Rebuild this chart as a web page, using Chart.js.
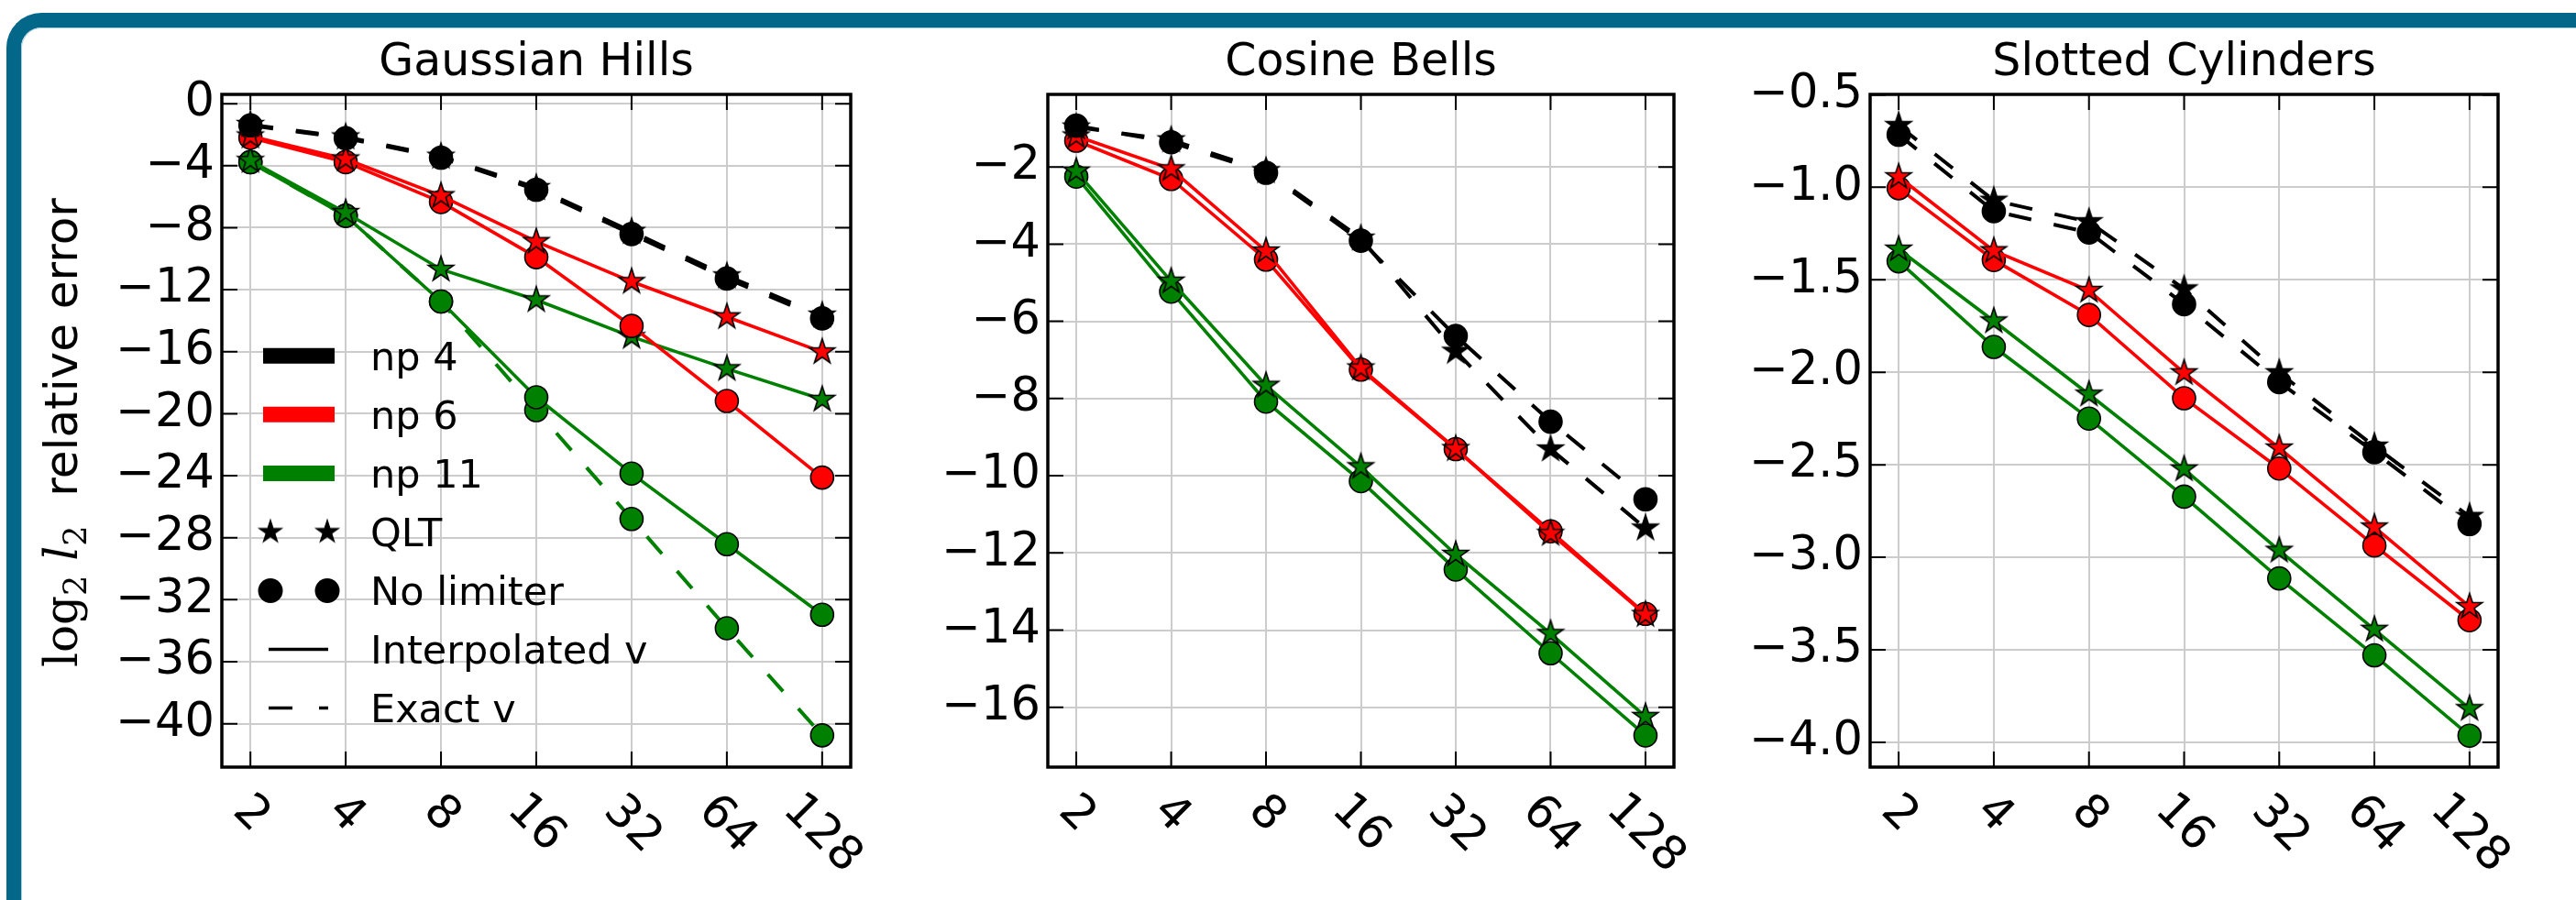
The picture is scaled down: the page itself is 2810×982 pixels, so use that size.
<!DOCTYPE html>
<html>
<head>
<meta charset="utf-8">
<script src="https://cdn.jsdelivr.net/npm/chart.js"></script>
<style>
html,body{margin:0;padding:0;background:#fff;overflow:hidden;width:2810px;height:982px;position:relative;}
#frame{position:absolute;left:7px;top:14px;width:2900px;height:1100px;border-top:16px solid #03678a;border-left:16px solid #03678a;border-top-left-radius:38px;box-sizing:border-box;}
#frameInner{position:absolute;left:23px;top:30px;width:2900px;height:1100px;border-top:1.5px solid #a9d0de;border-left:1.5px solid #a9d0de;border-top-left-radius:22px;box-sizing:border-box;}
canvas{position:absolute;top:0;}
#ylabel{position:absolute;left:67px;top:472px;transform:translate(-50%,-50%) rotate(-90deg);white-space:nowrap;font-family:'DejaVu Sans';font-size:50px;line-height:50px;color:#000;z-index:5;}
#ylabel .m{font-family:'DejaVu Serif';line-height:0;}
#ylabel .sub{font-size:35px;line-height:0;position:relative;top:10px;}
</style>
</head>
<body>
<div id="frame"></div>
<div id="frameInner"></div>
<canvas id="c1" width="990" height="982" style="left:0px;width:990px;height:982px"></canvas>
<canvas id="c2" width="945" height="982" style="left:943px;width:945px;height:982px"></canvas>
<canvas id="c3" width="947" height="982" style="left:1840px;width:947px;height:982px"></canvas>
<div id="ylabel"><span class="m">log<span class="sub">2</span>&nbsp;<i>l</i><span class="sub">2</span></span>&nbsp;&nbsp;relative error</div>
<script>
// ---------- data ----------
const xCategories = [2, 4, 8, 16, 32, 64, 128];
const xTickLabels = ['2', '4', '8', '16', '32', '64', '128'];
const panelTitles = ['Gaussian Hills', 'Cosine Bells', 'Slotted Cylinders'];

const ghYTicks = [0, -4, -8, -12, -16, -20, -24, -28, -32, -36, -40];
const cbYTicks = [-2, -4, -6, -8, -10, -12, -14, -16];
const scYTicks = [-0.5, -1.0, -1.5, -2.0, -2.5, -3.0, -3.5, -4.0];

// Gaussian Hills
const ghNp4QltExact    = [-1.35, -2.15, -3.40, -5.42, -8.25, -11.12, -13.65];
const ghNp4NolimExact  = [-1.40, -2.23, -3.48, -5.55, -8.41, -11.28, -13.85];
const ghNp6QltInterp   = [-2.09, -3.57, -5.94, -8.90, -11.48, -13.75, -16.02];
const ghNp6NolimInterp = [-2.19, -3.77, -6.34, -9.90, -14.34, -19.18, -24.12];
const ghNp11QltInterp  = [-3.67, -7.03, -10.69, -12.66, -15.03, -17.10, -19.08];
const ghNp11NolimInterp= [-3.77, -7.23, -12.76, -18.94, -23.86, -28.42, -32.97];
const ghNp11NolimExact = [-3.77, -7.23, -12.76, -19.77, -26.79, -33.84, -40.75];

// Cosine Bells
const cbNp4QltExact    = [-0.97, -1.30, -2.10, -3.85, -6.78, -9.31, -11.36];
const cbNp4NolimExact  = [-0.93, -1.36, -2.15, -3.91, -6.38, -8.60, -10.61];
const cbNp6QltInterp   = [-1.20, -2.05, -4.18, -7.21, -9.30, -11.50, -13.60];
const cbNp6NolimInterp = [-1.32, -2.31, -4.40, -7.25, -9.31, -11.44, -13.58];
const cbNp11QltInterp  = [-2.11, -4.96, -7.66, -9.77, -12.04, -14.09, -16.24];
const cbNp11NolimInterp= [-2.25, -5.23, -8.08, -10.14, -12.43, -14.60, -16.73];

// Slotted Cylinders
const scNp4QltExact    = [-0.667, -1.071, -1.187, -1.550, -2.003, -2.400, -2.780];
const scNp4NolimExact  = [-0.716, -1.129, -1.244, -1.632, -2.053, -2.432, -2.820];
const scNp6QltInterp   = [-0.944, -1.343, -1.558, -2.003, -2.410, -2.837, -3.267];
const scNp6NolimInterp = [-1.005, -1.393, -1.690, -2.140, -2.520, -2.936, -3.340];
const scNp11QltInterp  = [-1.335, -1.723, -2.119, -2.523, -2.963, -3.390, -3.818];
const scNp11NolimInterp= [-1.400, -1.863, -2.250, -2.672, -3.114, -3.530, -3.964];

const legendLabels = ['np 4', 'np 6', 'np 11', 'QLT', 'No limiter', 'Interpolated v', 'Exact v'];
const seriesColors = {np4: '#000000', np6: '#ff0000', np11: '#008000'};

// ---------- helpers ----------
function makeStar(fill, R, lw) {
  const size = Math.ceil(2 * R + 2 * lw + 4) + (Math.ceil(2 * R + 2 * lw + 4) % 2);
  const c = document.createElement('canvas');
  c.width = size; c.height = size;
  const g = c.getContext('2d');
  const cx = size / 2, cy = size / 2;
  g.beginPath();
  for (let i = 0; i < 10; i++) {
    const r = i % 2 === 0 ? R : R * 0.382;
    const a = -Math.PI / 2 + i * Math.PI / 5;
    const px = cx + r * Math.cos(a), py = cy + r * Math.sin(a);
    if (i) g.lineTo(px, py); else g.moveTo(px, py);
  }
  g.closePath();
  g.fillStyle = fill; g.fill();
  g.lineWidth = lw; g.strokeStyle = '#000'; g.lineJoin = 'miter'; g.stroke();
  return c;
}
const starImgs = {};
Object.values(seriesColors).forEach(c => { starImgs[c] = makeStar(c, 14.5, 1.6); });

function ds(values, color, marker, dashed, order) {
  return {
    data: xCategories.map((x, i) => ({x: x, y: values[i]})),
    borderColor: color,
    backgroundColor: color,
    borderWidth: dashed ? 4 : 3.6,
    borderDash: dashed ? [25, 25] : [],
    pointStyle: marker === 'star' ? starImgs[color] : 'circle',
    pointRadius: marker === 'star' ? 14 : 12.5,
    pointBorderColor: '#000',
    pointBorderWidth: 1.6,
    pointBackgroundColor: color,
    order: order,
    tension: 0,
    fill: false
  };
}

const FONT = "'DejaVu Sans'";

const panelPlugin = {
  id: 'panel',
  afterDraw(chart, args, opts) {
    const ctx = chart.ctx, a = chart.chartArea;
    const xs = chart.scales.x, ys = chart.scales.y;
    ctx.save();
    // inward ticks on all four sides
    ctx.strokeStyle = '#000'; ctx.lineWidth = 2; ctx.setLineDash([]);
    ctx.beginPath();
    xCategories.forEach(v => {
      const p = xs.getPixelForValue(v);
      ctx.moveTo(p, a.top); ctx.lineTo(p, a.top + 17);
      ctx.moveTo(p, a.bottom); ctx.lineTo(p, a.bottom - 17);
    });
    opts.yTicks.forEach(v => {
      const p = ys.getPixelForValue(v);
      ctx.moveTo(a.left, p); ctx.lineTo(a.left + 17, p);
      ctx.moveTo(a.right, p); ctx.lineTo(a.right - 17, p);
    });
    ctx.stroke();
    // spines
    ctx.lineWidth = 3.5;
    ctx.strokeRect(a.left, a.top, a.right - a.left, a.bottom - a.top);
    // title
    ctx.fillStyle = '#000';
    ctx.font = '49px ' + FONT;
    ctx.textAlign = 'center'; ctx.textBaseline = 'alphabetic';
    ctx.fillText(opts.title, (a.left + a.right) / 2, 82);
    // rotated x tick labels
    ctx.font = '51px ' + FONT;
    ctx.textAlign = 'left'; ctx.textBaseline = 'alphabetic';
    const th = Math.PI / 4;
    xCategories.forEach((v, i) => {
      const lab = xTickLabels[i];
      const m = ctx.measureText(lab);
      const inkW = m.actualBoundingBoxRight + m.actualBoundingBoxLeft;
      const inkH = m.actualBoundingBoxAscent + m.actualBoundingBoxDescent;
      const cxi = (m.actualBoundingBoxRight - m.actualBoundingBoxLeft) / 2;
      const cyi = -(m.actualBoundingBoxAscent - m.actualBoundingBoxDescent) / 2;
      const side = (inkW + inkH) * Math.SQRT1_2;
      const cx = xs.getPixelForValue(v) + 4;
      const cy = a.bottom + 24 + side / 2;
      ctx.save();
      ctx.translate(cx, cy);
      ctx.rotate(th);
      ctx.fillText(lab, -cxi, -cyi);
      ctx.restore();
    });
    // legend
    if (opts.legend) drawLegend(ctx);
    ctx.restore();
  }
};

function drawLegend(ctx) {
  const y0 = 388.3, step = 64.05;
  const hx0 = 287, hx1 = 365;
  ctx.save();
  const cols = [seriesColors.np4, seriesColors.np6, seriesColors.np11];
  for (let i = 0; i < 3; i++) {
    const y = y0 + i * step;
    ctx.strokeStyle = cols[i]; ctx.lineWidth = 17; ctx.lineCap = 'butt'; ctx.setLineDash([]);
    ctx.beginPath(); ctx.moveTo(hx0, y); ctx.lineTo(hx1, y); ctx.stroke();
  }
  // QLT stars
  let y = y0 + 3 * step;
  const blackStar = makeStar('#000', 13, 1.2);
  [295, 357].forEach(x => ctx.drawImage(blackStar, x - blackStar.width / 2, y - blackStar.height / 2));
  // No limiter circles
  y = y0 + 4 * step;
  ctx.fillStyle = '#000';
  [295, 357].forEach(x => { ctx.beginPath(); ctx.arc(x, y, 13.5, 0, Math.PI * 2); ctx.fill(); });
  // Interpolated
  y = y0 + 5 * step;
  ctx.strokeStyle = '#000'; ctx.lineWidth = 3.5;
  ctx.beginPath(); ctx.moveTo(293, y); ctx.lineTo(358, y); ctx.stroke();
  // Exact
  y = y0 + 6 * step;
  ctx.setLineDash([26, 29]);
  ctx.beginPath(); ctx.moveTo(293, y); ctx.lineTo(358, y); ctx.stroke();
  ctx.setLineDash([]);
  // labels
  ctx.fillStyle = '#000';
  ctx.font = '43px ' + FONT;
  ctx.textAlign = 'left'; ctx.textBaseline = 'alphabetic';
  legendLabels.forEach((t, i) => ctx.fillText(t, 404, y0 + i * step + 15.7));
  ctx.restore();
}

function fmtInt(v) { return v === 0 ? '0' : (v < 0 ? '\u2212' : '') + Math.abs(v); }
function fmtDec(v) { return (v < 0 ? '\u2212' : '') + Math.abs(v).toFixed(1); }

function makeChart(id, datasets, yMin, yMax, yTicks, fmt, title, padL, padR, legend) {
  return new Chart(document.getElementById(id), {
    type: 'line',
    data: {datasets: datasets},
    plugins: [panelPlugin],
    options: {
      responsive: false,
      animation: false,
      devicePixelRatio: 1,
      events: [],
      layout: {padding: {left: padL, right: padR, top: 103, bottom: 0}},
      plugins: {
        legend: {display: false},
        tooltip: {enabled: false},
        title: {display: false},
        panel: {title: title, yTicks: yTicks, legend: legend}
      },
      scales: {
        x: {
          type: 'logarithmic',
          min: Math.pow(2, 0.7),
          max: Math.pow(2, 7.3),
          afterBuildTicks: s => { s.ticks = xCategories.map(v => ({value: v})); },
          afterFit: s => { s.height = 145; },
          ticks: {display: false},
          grid: {color: '#cccccc', lineWidth: 2, drawTicks: false},
          border: {display: false}
        },
        y: {
          type: 'linear',
          min: yMin,
          max: yMax,
          afterBuildTicks: s => { s.ticks = yTicks.map(v => ({value: v})); },
          afterFit: s => { s.width = 200; },
          ticks: {
            callback: v => fmt(v),
            font: {family: 'DejaVu Sans', size: 51},
            color: '#000',
            padding: 8,
            autoSkip: false
          },
          grid: {color: '#cccccc', lineWidth: 2, drawTicks: false},
          border: {display: false}
        }
      }
    }
  });
}

const K = seriesColors;
makeChart('c1', [
  ds(ghNp4QltExact, K.np4, 'star', true, 2),
  ds(ghNp4NolimExact, K.np4, 'circle', true, 1),
  ds(ghNp6NolimInterp, K.np6, 'circle', false, 4),
  ds(ghNp6QltInterp, K.np6, 'star', false, 3),
  ds(ghNp11NolimExact, K.np11, 'circle', true, 7),
  ds(ghNp11NolimInterp, K.np11, 'circle', false, 6),
  ds(ghNp11QltInterp, K.np11, 'star', false, 5)
], -42.8, 0.6, ghYTicks, fmtInt, panelTitles[0], 42, 62, true);

makeChart('c2', [
  ds(cbNp4QltExact, K.np4, 'star', true, 2),
  ds(cbNp4NolimExact, K.np4, 'circle', true, 1),
  ds(cbNp6NolimInterp, K.np6, 'circle', false, 4),
  ds(cbNp6QltInterp, K.np6, 'star', false, 3),
  ds(cbNp11NolimInterp, K.np11, 'circle', false, 6),
  ds(cbNp11QltInterp, K.np11, 'star', false, 5)
], -17.55, -0.12, cbYTicks, fmtInt, panelTitles[1], 0, 62, false);

makeChart('c3', [
  ds(scNp4QltExact, K.np4, 'star', true, 2),
  ds(scNp4NolimExact, K.np4, 'circle', true, 1),
  ds(scNp6NolimInterp, K.np6, 'circle', false, 4),
  ds(scNp6QltInterp, K.np6, 'star', false, 3),
  ds(scNp11NolimInterp, K.np11, 'circle', false, 6),
  ds(scNp11QltInterp, K.np11, 'star', false, 5)
], -4.134, -0.498, scYTicks, fmtDec, panelTitles[2], 0, 62, false);
</script>
</body>
</html>
